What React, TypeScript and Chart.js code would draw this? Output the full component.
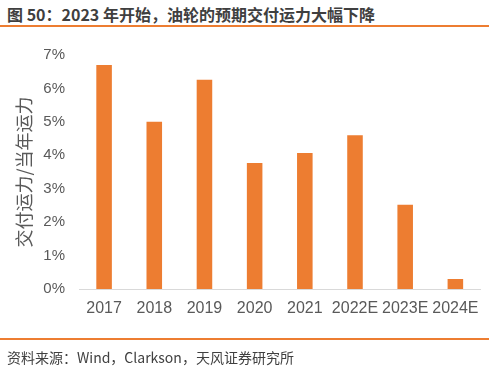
import React, { useEffect, useRef } from "react";
import { Chart, registerables } from "chart.js";

Chart.register(...registerables);

const categories = ["2017", "2018", "2019", "2020", "2021", "2022E", "2023E", "2024E"];
const deliveryRatio = [6.7, 5.0, 6.26, 3.77, 4.07, 4.6, 2.52, 0.3];
const yTickMax = 7;
const titleText = "图 50：2023 年开始，油轮的预期交付运力大幅下降";
const yAxisTitle = "交付运力/当年运力";
const sourceText = "资料来源：Wind，Clarkson，天风证券研究所";

const ORANGE = "#ED7D31";
const NUM_FONT = "'Liberation Sans Narrow', 'Liberation Sans', Arial, sans-serif";
const CJK_FONT = "'Noto Sans CJK SC', 'Liberation Sans', sans-serif";

export default function App() {
  const canvasRef = useRef<HTMLCanvasElement | null>(null);

  useEffect(() => {
    document.body.style.margin = "0";
    const ctx = canvasRef.current;
    if (!ctx) return;
    const chart = new Chart(ctx, {
      type: "bar",
      data: {
        labels: categories,
        datasets: [
          {
            data: deliveryRatio,
            backgroundColor: ORANGE,
            borderWidth: 0,
            categoryPercentage: 1,
            barPercentage: 0.31,
          },
        ],
      },
      options: {
        animation: false,
        responsive: false,
        maintainAspectRatio: false,
        layout: { padding: { top: 55, right: 8, left: 0, bottom: 0 } },
        plugins: {
          legend: { display: false },
          tooltip: { enabled: false },
        },
        scales: {
          x: {
            grid: { display: false, drawTicks: false },
            border: { display: true, color: "#d9d9d9", width: 1 },
            ticks: {
              color: "#595959",
              font: { family: "'Liberation Sans', Arial, sans-serif", size: 16 },
              padding: 10,
              maxRotation: 0,
              autoSkip: false,
            },
            afterFit: (scale: any) => {
              scale.height = 77;
            },
          },
          y: {
            min: 0,
            max: yTickMax,
            grid: { display: false, drawTicks: false },
            border: { display: false },
            ticks: {
              stepSize: 1,
              color: "#595959",
              font: { family: NUM_FONT, size: 15 },
              padding: 14,
              callback: (v: any) => `${v}%`,
            },
            title: {
              display: true,
              text: yAxisTitle,
              color: "#595959",
              font: { family: CJK_FONT, size: 18 },
              padding: { top: 13, bottom: 0 },
            },
            afterFit: (scale: any) => {
              scale.width = 79;
            },
          },
        },
      },
    });
    return () => chart.destroy();
  }, []);

  return (
    <div
      style={{
        position: "fixed",
        left: 0,
        top: 0,
        width: 489,
        height: 366,
        background: "#fff",
        overflow: "hidden",
      }}
    >
      <div
        style={{
          position: "absolute",
          left: 7,
          top: 4,
          fontFamily: CJK_FONT,
          fontWeight: "bold",
          fontSize: 16,
          lineHeight: "20px",
          color: "#3f3f3f",
          whiteSpace: "nowrap",
        }}
      >
        {titleText}
      </div>
      <div style={{ position: "absolute", left: 0, top: 25, width: 489, height: 2, background: ORANGE }} />
      <canvas
        ref={canvasRef}
        width={489}
        height={366}
        style={{ position: "absolute", left: 0, top: 0, width: 489, height: 366 }}
      />
      <div style={{ position: "absolute", left: 0, top: 338, width: 489, height: 1.5, background: ORANGE }} />
      <div
        style={{
          position: "absolute",
          left: 7,
          top: 347,
          fontFamily: CJK_FONT,
          fontSize: 14,
          lineHeight: "20px",
          color: "#404040",
          whiteSpace: "nowrap",
        }}
      >
        {sourceText}
      </div>
    </div>
  );
}
